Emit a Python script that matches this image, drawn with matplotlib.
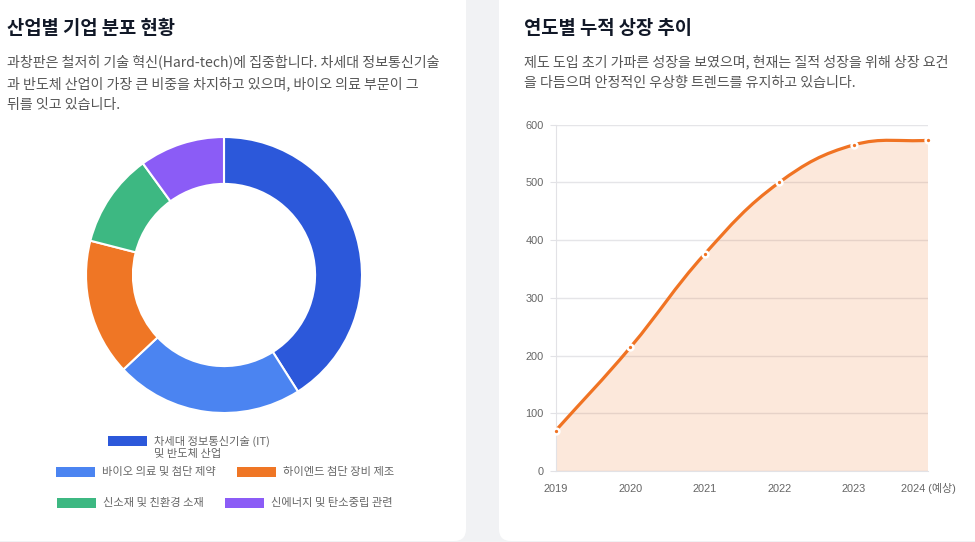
import matplotlib
matplotlib.use('Agg')
import matplotlib.pyplot as plt
import numpy as np
from matplotlib.patches import FancyBboxPatch, Rectangle, PathPatch
from matplotlib.path import Path
from matplotlib.transforms import IdentityTransform

plt.rcParams['font.family'] = ['Noto Sans CJK KR', 'DejaVu Sans']

# --- data ---
sectors = ['차세대 정보통신기술 (IT)\n및 반도체 산업', '바이오 의료 및 첨단 제약',
           '하이엔드 첨단 장비 제조', '신소재 및 친환경 소재', '신에너지 및 탄소중립 관련']
shares = [41, 22, 16, 11, 10]
sector_colors = ['#2C58DA', '#4B84F1', '#EF7625', '#3DB882', '#8B5CF6']

years = ['2019', '2020', '2021', '2022', '2023', '2024 (예상)']
listed = [70, 214, 376, 500, 565, 573]
line_color = '#F07323'

W, H = 975, 542
fig = plt.figure(figsize=(W / 100, H / 100), dpi=100)
fig.patch.set_facecolor('#F1F2F4')


def px(x, y):
    # pixel position (from top-left) -> figure fraction
    return x / W, 1 - y / H


# cards (behind everything)
for x0, x1 in [(-30, 466), (499, 1010)]:
    card = FancyBboxPatch((x0, 1), x1 - x0, 600, boxstyle='round,pad=0,rounding_size=12',
                          facecolor='white', edgecolor='none', transform=IdentityTransform(),
                          zorder=-10)
    fig.patches.append(card)

title_kw = dict(fontsize=13.5, fontweight='bold', color='#111827', va='center', ha='left')
desc_kw = dict(fontsize=10.1, color='#555555', va='center', ha='left')

fig.text(*px(7, 28), '산업별 기업 분포 현황', **title_kw)
desc_left = ['과창판은 철저히 기술 혁신(Hard-tech)에 집중합니다. 차세대 정보통신기술',
             '과 반도체 산업이 가장 큰 비중을 차지하고 있으며, 바이오 의료 부문이 그',
             '뒤를 잇고 있습니다.']
for i, line in enumerate(desc_left):
    fig.text(*px(7, 62 + i * 21.5), line, **desc_kw)

fig.text(*px(524, 28), '연도별 누적 상장 추이', **title_kw)
desc_right = ['제도 도입 초기 가파른 성장을 보였으며, 현재는 질적 성장을 위해 상장 요건',
              '을 다듬으며 안정적인 우상향 트렌드를 유지하고 있습니다.']
for i, line in enumerate(desc_right):
    fig.text(*px(524, 62 + i * 21.5), line, **desc_kw)

# --- donut ---
cx, cy, R = 224, 275, 138
axd = fig.add_axes([(cx - R) / W, (H - cy - R) / H, 2 * R / W, 2 * R / H])
axd.pie(shares, colors=sector_colors, startangle=90, counterclock=False, radius=1,
        wedgeprops=dict(width=0.34, edgecolor='white', linewidth=1.5))
axd.set_xlim(-1, 1)
axd.set_ylim(-1, 1)
axd.set_aspect('auto')
axd.axis('off')

# legend (chart.js style rows)
legend_pos = [(108, 441), (56, 472), (237, 472), (57, 503), (225, 503)]
for (lx, ly), lab, col in zip(legend_pos, sectors, sector_colors):
    fig.patches.append(Rectangle((lx, H - ly - 5), 39, 10, facecolor=col, edgecolor='none',
                                 transform=IdentityTransform()))
    lines = lab.split('\n')
    for j, t in enumerate(lines):
        fig.text(*px(lx + 46, ly + j * 12.5), t, fontsize=8.1, color='#666666',
                 va='center', ha='left')

# --- line chart ---
x0p, x1p, y0p, y1p = 555.7, 928.3, 124.7, 471.0
axl = fig.add_axes([x0p / W, (H - y1p) / H, (x1p - x0p) / W, (y1p - y0p) / H])
axl.patch.set_alpha(0)
xs = np.arange(len(years))
axl.set_xlim(0, len(years) - 1)
axl.set_ylim(0, 600)

# chart.js style bezier (tension 0.4) computed in pixel space
sx = (x1p - x0p) / (len(years) - 1)
sy = (y1p - y0p) / 600
pts = np.column_stack([xs * sx, np.array(listed, dtype=float) * sy])
verts = [tuple(pts[0])]
codes = [Path.MOVETO]
n = len(pts)
cps = []
for i in range(n):
    prev = pts[max(i - 1, 0)]
    cur = pts[i]
    nxt = pts[min(i + 1, n - 1)]
    d01 = np.hypot(*(cur - prev))
    d12 = np.hypot(*(nxt - cur))
    tot = d01 + d12 if d01 + d12 > 0 else 1
    fa = 0.4 * d01 / tot
    fb = 0.4 * d12 / tot
    cps.append((cur - fa * (nxt - prev), cur + fb * (nxt - prev)))
for i in range(1, n):
    verts += [tuple(cps[i - 1][1]), tuple(cps[i][0]), tuple(pts[i])]
    codes += [Path.CURVE4] * 3
verts = [(vx / sx, vy / sy) for vx, vy in verts]
curve = Path(verts, codes)

fill_verts = verts + [(xs[-1], 0), (0, 0), verts[0]]
fill_codes = codes + [Path.LINETO, Path.LINETO, Path.CLOSEPOLY]
axl.add_patch(PathPatch(Path(fill_verts, fill_codes), facecolor=line_color, alpha=0.16,
                        edgecolor='none', zorder=1))
axl.add_patch(PathPatch(curve, facecolor='none', edgecolor=line_color, linewidth=2.3,
                        zorder=3, capstyle='round'))
axl.plot(xs, listed, linestyle='none', marker='o', markersize=4.2,
         markerfacecolor=line_color, markeredgecolor='white', markeredgewidth=1.8,
         zorder=4, clip_on=False)

axl.set_yticks(range(0, 601, 100))
axl.set_xticks(xs)
axl.set_xticklabels(years)
axl.grid(axis='y', color='#E5E5E8', linewidth=1)
axl.set_axisbelow(True)
for s in ['top', 'right']:
    axl.spines[s].set_visible(False)
for s in ['left', 'bottom']:
    axl.spines[s].set_color('#E2E2E6')
axl.tick_params(axis='y', length=4.5, color='#E2E2E6', pad=4, labelsize=7.9, labelcolor='#666666')
axl.tick_params(axis='x', length=0, pad=9, labelsize=7.9, labelcolor='#666666')
for lab in axl.get_xticklabels() + axl.get_yticklabels():
    lab.set_family(['Liberation Sans', 'Noto Sans CJK KR'])

fig.savefig('out.png', dpi=100, facecolor=fig.get_facecolor())
